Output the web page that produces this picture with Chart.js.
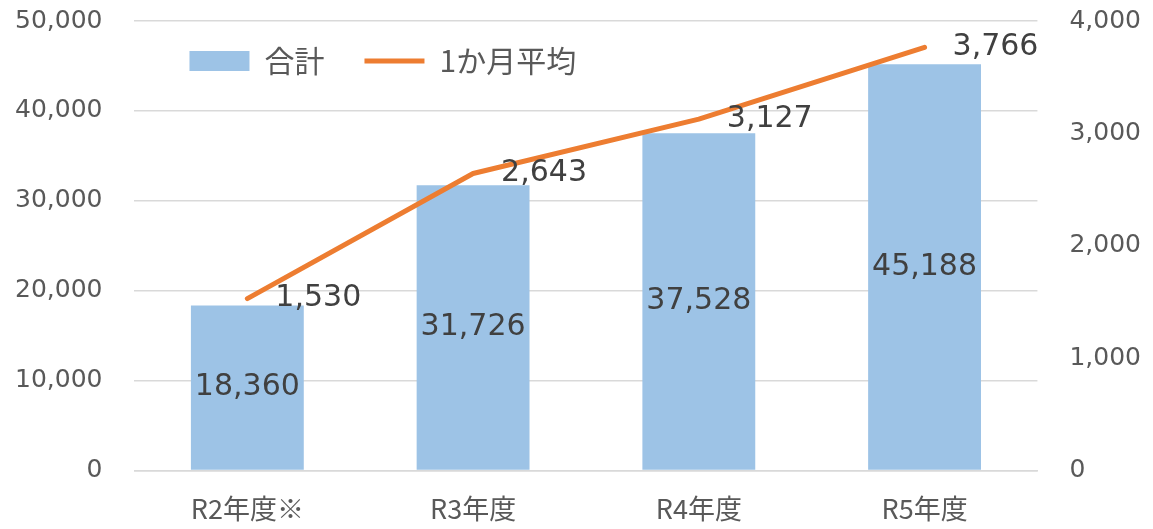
<!DOCTYPE html>
<html>
<head>
<meta charset="utf-8">
<script src="https://cdn.jsdelivr.net/npm/chart.js@4"></script>
<style>
  html, body { margin: 0; padding: 0; background: #fff; }
  #wrap { width: 1153px; height: 529px; }
</style>
</head>
<body>
<div id="wrap"><canvas id="chart"></canvas></div>
<script>
const categories = ['R2年度※', 'R3年度', 'R4年度', 'R5年度'];
const totals = [18360, 31726, 37528, 45188];
const monthlyAvg = [1530, 2643, 3127, 3766];
const seriesNames = ['合計', '1か月平均'];

const textColor = '#595959';
const labelColor = '#404040';
const numFont = "'DejaVu Sans', sans-serif";
const jpFont = "'Noto Sans CJK JP', sans-serif";

// draws the value labels (no datalabels plugin available offline)
const valueLabels = {
  id: 'valueLabels',
  afterDatasetsDraw(chart) {
    const ctx = chart.ctx;
    ctx.save();
    ctx.fillStyle = labelColor;
    ctx.font = `30px ${numFont}`;
    ctx.textBaseline = 'middle';

    const barMeta = chart.getDatasetMeta(0);
    ctx.textAlign = 'center';
    barMeta.data.forEach((bar, i) => {
      ctx.fillText(totals[i].toLocaleString('en-US'), bar.x, (bar.y + bar.base) / 2);
    });

    const lineMeta = chart.getDatasetMeta(1);
    ctx.textAlign = 'left';
    lineMeta.data.forEach((pt, i) => {
      ctx.fillText(monthlyAvg[i].toLocaleString('en-US'), pt.x + 28, pt.y);
    });
    ctx.restore();
  }
};

// legend sits inside the plot area, one row, like the original
const legendInside = {
  id: 'legendInside',
  beforeUpdate(chart) {
    if (chart.legend) chart.legend.isHorizontal = () => true;
  },
  afterLayout(chart) {
    if (!chart.legend) return;
    chart.legend.left = chart.chartArea.left + 15;
    chart.legend.top = chart.chartArea.top - 15;
  }
};

// chart.js reserves tick padding on both sides of the labels; keep one
const trimY = s => {
  s.width -= s.options.ticks.padding;
  s.paddingTop = 12;
  s.paddingBottom = 12;
};
const trimX = s => {
  s.height -= s.options.ticks.padding;
  s.paddingLeft = 0;
  s.paddingRight = 0;
};

const ctx = document.getElementById('chart').getContext('2d');
new Chart(ctx, {
  data: {
    labels: categories,
    datasets: [
      {
        type: 'bar',
        label: seriesNames[0],
        data: totals,
        backgroundColor: '#9DC3E6',
        borderWidth: 0,
        yAxisID: 'y',
        order: 1,
        categoryPercentage: 1,
        barPercentage: 0.5,
      },
      {
        type: 'line',
        label: seriesNames[1],
        data: monthlyAvg,
        borderColor: '#ED7D31',
        backgroundColor: '#ED7D31',
        borderWidth: 5,
        borderCapStyle: 'round',
        borderJoinStyle: 'round',
        pointRadius: 0,
        tension: 0,
        yAxisID: 'y1',
        order: 0,
      }
    ]
  },
  options: {
    responsive: true,
    maintainAspectRatio: false,
    animation: false,
    layout: {
      padding: { left: 15, right: 12, top: 21, bottom: 4 }
    },
    scales: {
      x: {
        grid: { display: false },
        border: { color: '#d9d9d9', width: 1.5 },
        ticks: {
          color: textColor,
          font: { family: jpFont, size: 27 },
          padding: 14,
        },
        afterFit: trimX
      },
      y: {
        position: 'left',
        min: 0,
        max: 50000,
        ticks: {
          stepSize: 10000,
          color: textColor,
          font: { family: numFont, size: 25 },
          padding: 32,
          callback: v => v.toLocaleString('en-US'),
        },
        grid: { color: '#d9d9d9', lineWidth: 1.5, drawTicks: false },
        border: { display: false },
        afterFit: trimY
      },
      y1: {
        position: 'right',
        min: 0,
        max: 4000,
        ticks: {
          stepSize: 1000,
          color: textColor,
          font: { family: numFont, size: 25 },
          padding: 32,
          callback: v => v.toLocaleString('en-US'),
        },
        grid: { drawOnChartArea: false, drawTicks: false },
        border: { display: false },
        afterFit: trimY
      }
    },
    plugins: {
      legend: {
        position: 'chartArea',
        align: 'start',
        labels: {
          usePointStyle: true,
          pointStyleWidth: 60,
          boxHeight: 20,
          padding: 40,
          color: textColor,
          font: { family: jpFont, size: 30 },
          sort: (a, b) => a.datasetIndex - b.datasetIndex,
          generateLabels(chart) {
            const items = Chart.defaults.plugins.legend.labels.generateLabels(chart);
            return items.map(item => ({
              ...item,
              pointStyle: item.datasetIndex === 0 ? 'rect' : 'line',
            }));
          }
        }
      },
      tooltip: { enabled: false }
    }
  },
  plugins: [valueLabels, legendInside]
});
</script>
</body>
</html>
